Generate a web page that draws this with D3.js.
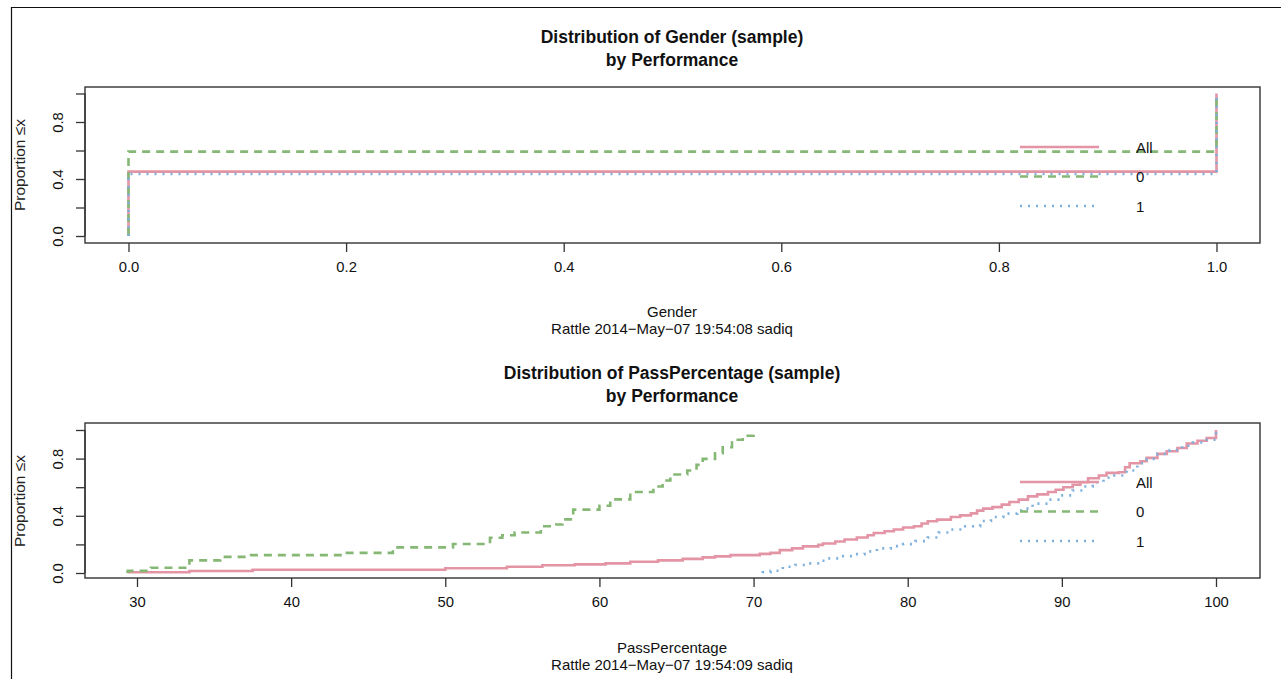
<!DOCTYPE html>
<html><head><meta charset="utf-8">
<script src="https://cdn.jsdelivr.net/npm/d3@7"></script>
<style>
body{margin:0;background:#fff;}
svg{display:block;font-family:"Liberation Sans",Arial,sans-serif;}
</style></head>
<body>
<svg id="c" width="1281" height="679"></svg>
<script>
// ---------- DATA ----------
const seriesNames = ["All", "0", "1"];
const seriesColors = ["#E495A5", "#86B875", "#7DB0DD"];
const seriesDash = [null, "8,6", "2,6"];

const genderTicks = [0, 0.2, 0.4, 0.6, 0.8, 1.0];
const genderAll = [[0, 0.452], [1, 1.0]];
const gender0 = [[0, 0.592], [1, 1.0]];
const gender1 = [[0, 0.435], [1, 1.0]];

const passTicks = [30, 40, 50, 60, 70, 80, 90, 100];
const passAll = [[29.4,0.005],[33.4,0.014],[37.5,0.023],[50.0,0.033],[54.0,0.044],[56.3,0.054],[58.4,0.06],[60.4,0.067],[62.0,0.079],[63.8,0.088],[65.4,0.099],[66.7,0.109],[67.5,0.116],[68.5,0.125],[70.4,0.134],[71.1,0.141],[71.7,0.16],[72.5,0.172],[73.2,0.186],[74.2,0.197],[74.5,0.206],[75.3,0.22],[75.9,0.234],[76.7,0.248],[77.4,0.264],[77.8,0.28],[78.5,0.292],[79.1,0.304],[79.7,0.318],[80.4,0.327],[80.9,0.346],[81.3,0.362],[81.9,0.373],[82.8,0.392],[83.4,0.403],[84.1,0.417],[84.5,0.436],[84.9,0.45],[85.5,0.461],[86.1,0.478],[86.6,0.496],[87.2,0.513],[87.8,0.536],[88.4,0.55],[89.1,0.566],[89.6,0.582],[90.1,0.6],[90.7,0.617],[91.2,0.635],[91.7,0.663],[92.4,0.682],[92.9,0.70],[93.7,0.705],[94.1,0.74],[94.4,0.767],[95.1,0.781],[95.5,0.805],[96.2,0.833],[96.8,0.851],[97.5,0.874],[98.1,0.906],[98.8,0.925],[99.4,0.944],[100,1.0]];
const pass0 = [[29.4,0.015],[30.9,0.037],[33.4,0.088],[35.4,0.113],[37.4,0.125],[43.2,0.141],[46.6,0.179],[50.5,0.203],[52.9,0.246],[53.7,0.264],[54.5,0.283],[56.2,0.327],[57.2,0.339],[57.6,0.375],[58.3,0.443],[60.0,0.47],[60.7,0.515],[62.0,0.566],[63.5,0.605],[64.1,0.647],[64.6,0.689],[65.7,0.717],[66.3,0.756],[66.7,0.798],[67.5,0.837],[68.0,0.879],[68.6,0.932],[69.3,0.96],[70.0,1.0]];
const pass1 = [[70.6,0.005],[71.1,0.016],[71.9,0.044],[72.7,0.056],[73.5,0.067],[74.3,0.086],[74.8,0.102],[75.6,0.118],[76.5,0.132],[77.2,0.151],[78.0,0.172],[78.9,0.188],[79.7,0.202],[80.5,0.223],[81.3,0.248],[82.0,0.283],[82.8,0.304],[83.6,0.327],[84.7,0.364],[85.4,0.392],[86.2,0.415],[87.1,0.438],[87.4,0.45],[88.1,0.485],[89.1,0.513],[89.9,0.543],[90.7,0.577],[91.4,0.605],[92.0,0.635],[92.7,0.666],[93.4,0.682],[94.2,0.717],[94.9,0.767],[95.5,0.798],[96.2,0.833],[97.0,0.86],[97.8,0.89],[98.5,0.913],[99.2,0.932],[100,1.0]];

const yTicks = [0, 0.2, 0.4, 0.6, 0.8, 1.0];
const yLabelTicks = [0, 0.4, 0.8];

const panels = [
  {title1:"Distribution of Gender (sample)", title2:"by Performance", xlab:"Gender",
   sub:"Rattle 2014\u2212May\u221207 19:54:08 sadiq",
   series:[genderAll, gender0, gender1], xTicks: genderTicks, xDomain:[0,1], xFmt: d3.format(".1f"),
   top:0},
  {title1:"Distribution of PassPercentage (sample)", title2:"by Performance", xlab:"PassPercentage",
   sub:"Rattle 2014\u2212May\u221207 19:54:09 sadiq",
   series:[passAll, pass0, pass1], xTicks: passTicks, xDomain:[30,100], xFmt: d3.format("d"),
   top:336}
];

// ---------- DRAW ----------
const svg = d3.select("#c");

// outer frame
svg.append("path").attr("d","M11.5,679 L11.5,7.5 L1281,7.5").attr("fill","none").attr("stroke","#111").attr("stroke-width",1.2);

panels.forEach((p, pi) => {
  const T = p.top;
  const box = {l:85, r:1260, t:87+T, b:243+T - (pi?1:0)};
  const x = d3.scaleLinear().domain(p.xDomain).range(pi ? [137,1216] : [128.5,1216.5]);
  const y = d3.scaleLinear().domain([0,1]).range([236+T + (pi?1:0), 93.5+T + (pi?0.5:0)]);
  const g = svg.append("g");

  // titles
  g.append("text").attr("x",672).attr("y",43+T).attr("text-anchor","middle")
    .attr("font-weight","bold").attr("font-size",17.5).attr("fill","#111").text(p.title1);
  g.append("text").attr("x",672).attr("y",66+T).attr("text-anchor","middle")
    .attr("font-weight","bold").attr("font-size",17.5).attr("fill","#111").text(p.title2);

  // lines (step functions)
  p.series.forEach((s, si) => {
    const pts = [[s[0][0], 0]];
    let prev = 0;
    s.forEach(([v, q]) => { pts.push([v, prev]); pts.push([v, q]); prev = q; });
    const line = d3.line().x(d => x(d[0])).y(d => y(d[1]));
    const path = g.append("path").attr("d", line(pts)).attr("fill","none")
      .attr("stroke", seriesColors[si]).attr("stroke-width", si===0 ? 2.6 : 2.6);
    if (seriesDash[si]) path.attr("stroke-dasharray", seriesDash[si]);
  });

  // box
  g.append("rect").attr("x",box.l).attr("y",box.t).attr("width",box.r-box.l).attr("height",box.b-box.t)
    .attr("fill","none").attr("stroke","#333").attr("stroke-width",1.4);

  // x axis
  const xa = d3.axisBottom(x).tickValues(p.xTicks).tickFormat(p.xFmt).tickSize(9).tickPadding(9);
  const gx = g.append("g").attr("transform",`translate(0,${box.b})`).call(xa);
  gx.select(".domain").remove();
  gx.selectAll("line").attr("stroke","#333").attr("stroke-width",1.3);
  gx.selectAll("text").attr("font-size",14.8).attr("fill","#111").attr("font-family","Liberation Sans, Arial, sans-serif");

  // y axis
  const ya = d3.axisLeft(y).tickValues(yTicks).tickFormat(d => yLabelTicks.includes(d) ? d3.format(".1f")(d) : "").tickSize(9).tickPadding(0);
  const gy = g.append("g").attr("transform",`translate(${box.l},0)`).call(ya);
  gy.select(".domain").attr("d", `M0,${y(0)}V${y(1)}`).attr("stroke","#333").attr("stroke-width",1.3);
  gy.selectAll("line").attr("stroke","#333").attr("stroke-width",1.3);
  gy.selectAll(".tick text").attr("font-size",14.8).attr("fill","#111")
    .attr("font-family","Liberation Sans, Arial, sans-serif")
    .attr("text-anchor","middle").attr("x",0).attr("dy",0)
    .attr("transform","translate(-22,0) rotate(-90)");

  // y label
  g.append("text").attr("transform",`translate(25,${165+T}) rotate(-90)`).attr("text-anchor","middle")
    .attr("font-size",15.5).attr("fill","#222").text("Proportion \u2264x");

  // x label and sub
  g.append("text").attr("x",672).attr("y",317+T).attr("text-anchor","middle").attr("font-size",15).attr("fill","#111").text(p.xlab);
  g.append("text").attr("x",672).attr("y",334+T).attr("text-anchor","middle").attr("font-size",15).attr("fill","#111").text(p.sub);

  // legend
  seriesNames.forEach((nm, si) => {
    const ly = 147 + T - (pi?1:0) + si*29.5;
    const l = g.append("line").attr("x1",1020).attr("x2",1099).attr("y1",ly).attr("y2",ly)
      .attr("stroke",seriesColors[si]).attr("stroke-width", 2.6);
    if (seriesDash[si]) l.attr("stroke-dasharray", seriesDash[si]);
    g.append("text").attr("x",1136).attr("y",ly+5.5).attr("font-size",15).attr("fill","#111").text(nm);
  });
});
</script>
</body></html>
